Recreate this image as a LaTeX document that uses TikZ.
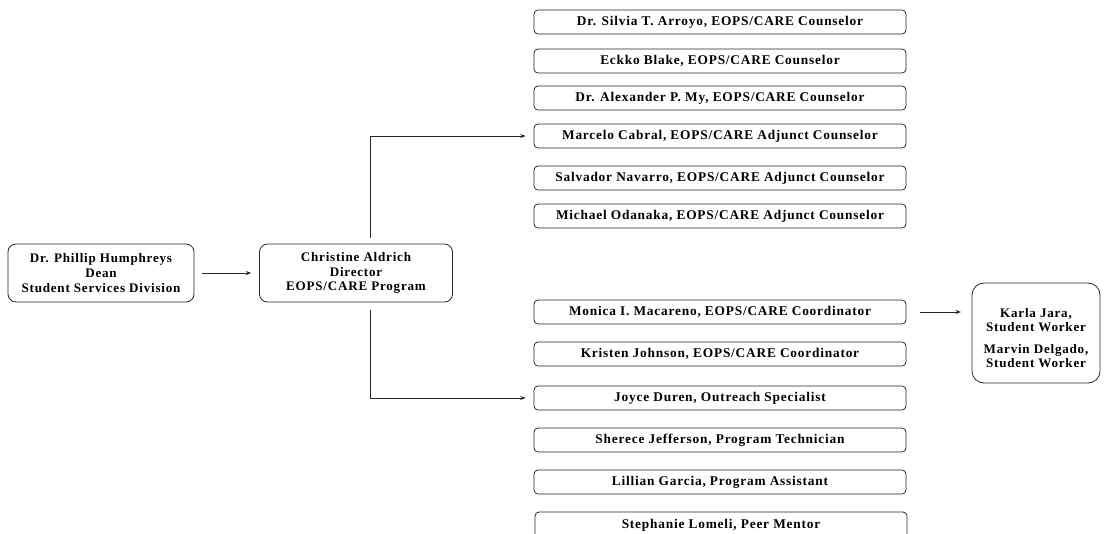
\documentclass[tikz,border=0pt]{standalone}
\usepackage{fontspec}
\setmainfont{Liberation Serif}[LetterSpace=6]
\usetikzlibrary{arrows.meta}
\begin{document}
\begin{tikzpicture}[x=0.75pt,y=-0.75pt,
  box/.style={draw=black!85,line width=0.6pt,rounded corners=3pt,inner sep=1pt,
     font=\bfseries\fontsize{10}{10.5}\selectfont,align=center},
  lbox/.style={box,rounded corners=6pt,font=\bfseries\fontsize{9.8}{11}\selectfont,
     minimum width=186*0.75pt,minimum height=58*0.75pt},
  rbox/.style={box,minimum width=372*0.75pt,minimum height=24*0.75pt},
  conn/.style={draw=black!85,line width=0.6pt,-{Stealth[length=4pt,width=3pt]}},
  line/.style={draw=black!85,line width=0.6pt}]
\useasboundingbox (0,0) rectangle (1104,533);
\node[lbox] (dean) at (101,273) {Dr. Phillip Humphreys\\Dean\\Student Services Division};
\node[lbox,minimum width=193*0.75pt] (dir) at (356,273) {Christine Aldrich\\Director\\EOPS/CARE Program};
\node[rbox] (r1) at (720,22) {Dr. Silvia T. Arroyo, EOPS/CARE Counselor};
\node[rbox] (r2) at (720,61) {Eckko Blake, EOPS/CARE Counselor};
\node[rbox] (r3) at (720,98) {Dr. Alexander P. My, EOPS/CARE Counselor};
\node[rbox] (r4) at (720,136) {Marcelo Cabral, EOPS/CARE Adjunct Counselor};
\node[rbox] (r5) at (720,178) {Salvador Navarro, EOPS/CARE Adjunct Counselor};
\node[rbox] (r6) at (720,216) {Michael Odanaka, EOPS/CARE Adjunct Counselor};
\node[rbox] (r7) at (720,312) {Monica I. Macareno, EOPS/CARE Coordinator};
\node[rbox] (r8) at (720,354) {Kristen Johnson, EOPS/CARE Coordinator};
\node[rbox] (r9) at (720,398) {Joyce Duren, Outreach Specialist};
\node[rbox] (r10) at (720,440) {Sherece Jefferson, Program Technician};
\node[rbox] (r11) at (720,482) {Lillian Garcia, Program Assistant};
\node[rbox,minimum height=26*0.75pt] (r12) at (721,525) {Stephanie Lomeli, Peer Mentor};
\node[box,rounded corners=9pt,minimum width=128*0.75pt,minimum height=100*0.75pt,
  font=\bfseries\fontsize{9.8}{10.5}\selectfont] (sw) at (1036,333)
  {\rule{0pt}{14.5pt}Karla Jara,\\Student Worker\\[5.5pt]Marvin Delgado,\\Student Worker};
\coordinate (tup) at (370,238);
\coordinate (tdn) at (370,310);
\draw[conn,shorten <=6pt,shorten >=6pt] (dean) -- (dir);
\draw[conn,shorten >=6pt] (tup) |- (r4.west);
\draw[conn,shorten >=6pt] (tdn) |- (r9.west);
\draw[conn,shorten <=10pt,shorten >=8pt] (r7.east) -- (r7.east -| sw.west);
\end{tikzpicture}
\end{document}
